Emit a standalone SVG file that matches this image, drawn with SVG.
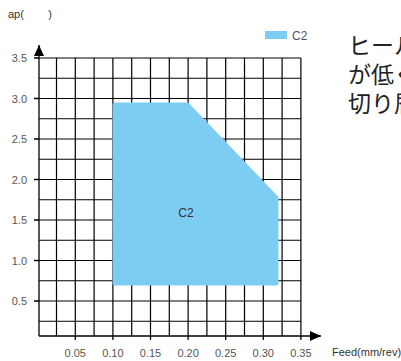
<svg xmlns="http://www.w3.org/2000/svg" width="401" height="361" viewBox="0 0 401 361">
<style>
.grid{stroke:#000;stroke-width:1.2;fill:none}
.axis{stroke:#000;stroke-width:1.3;fill:none}
.lbl{font-family:"Liberation Sans",Arial,sans-serif;font-size:11px;fill:#555}
.yl{text-anchor:end}
.xl{text-anchor:middle}
.area{fill:#7dcdf3;stroke:#7dcdf3;stroke-width:5;stroke-linejoin:round}
.jp{font-family:"Noto Sans CJK JP",sans-serif;font-size:23px;fill:#222}
</style>
<defs>
<marker id="arr" markerWidth="12" markerHeight="10" refX="11" refY="5" orient="auto" markerUnits="userSpaceOnUse">
<path d="M0,0 L11,5 L0,10 Z" fill="#000"/>
</marker>
</defs>
<rect width="401" height="361" fill="#fff"/>
<g id="grid" class="grid">
<path d="M56.5,58V336M75.3,58V336M94.1,58V336M112.9,58V336M131.7,58V336M150.5,58V336M169.3,58V336M188.1,58V336M206.9,58V336M225.7,58V336M244.5,58V336M263.3,58V336M282.1,58V336M300.9,58V336"/>
<path d="M39,58H300.9M39,78.25H300.9M39,98.5H300.9M39,118.75H300.9M39,139H300.9M39,159.25H300.9M39,179.5H300.9M39,199.75H300.9M39,220H300.9M39,240.25H300.9M39,260.5H300.9M39,280.75H300.9M39,301H300.9M39,321.25H300.9"/>
</g>
<g id="region-C2">
<path class="area" d="M115,105.1 L187.1,105.1 L276,198 L276,283 L115,283 Z"/>
<text class="lbl" x="186" y="217" text-anchor="middle" style="font-size:12px;fill:#333">C2</text>
</g>
<g id="connectors">
<path class="axis" d="M39,336V45" marker-end="url(#arr)"/>
<path class="axis" d="M39,336H321" marker-end="url(#arr)"/>
<path class="axis" d="M34,58H39M34,98.5H39M34,139H39M34,179.5H39M34,220H39M34,260.5H39M34,301H39"/>
<path class="axis" d="M75.3,336V340M112.9,336V340M150.5,336V340M188.1,336V340M225.7,336V340M263.3,336V340M300.9,336V340"/>
</g>
<g id="y-labels" class="lbl yl">
<text x="27" y="62">3.5</text>
<text x="27" y="102.5">3.0</text>
<text x="27" y="143">2.5</text>
<text x="27" y="183.5">2.0</text>
<text x="27" y="224">1.5</text>
<text x="27" y="264.5">1.0</text>
<text x="27" y="305">0.5</text>
</g>
<g id="x-labels" class="lbl xl">
<text x="75.3" y="357">0.05</text>
<text x="112.9" y="357">0.10</text>
<text x="150.5" y="357">0.15</text>
<text x="188.1" y="357">0.20</text>
<text x="225.7" y="357">0.25</text>
<text x="263.3" y="357">0.30</text>
<text x="300.9" y="357">0.35</text>
</g>
<g id="axis-titles">
<text class="lbl" x="8" y="18" style="fill:#333">ap(&#160;&#160;&#160;&#160;&#160;&#160;&#160;&#160;)</text>
<text class="lbl" x="332" y="356" style="fill:#333">Feed(mm/rev)</text>
</g>
<g id="legend">
<rect x="265" y="31" width="22" height="8" fill="#7dcdf3"/>
<text class="lbl" x="292" y="40" style="font-size:12px">C2</text>
</g>
<g id="note">
<text class="jp" x="348" y="54">ヒール</text>
<text class="jp" x="348" y="83">が低く</text>
<text class="jp" x="348" y="112">切り屑</text>
</g>
</svg>
